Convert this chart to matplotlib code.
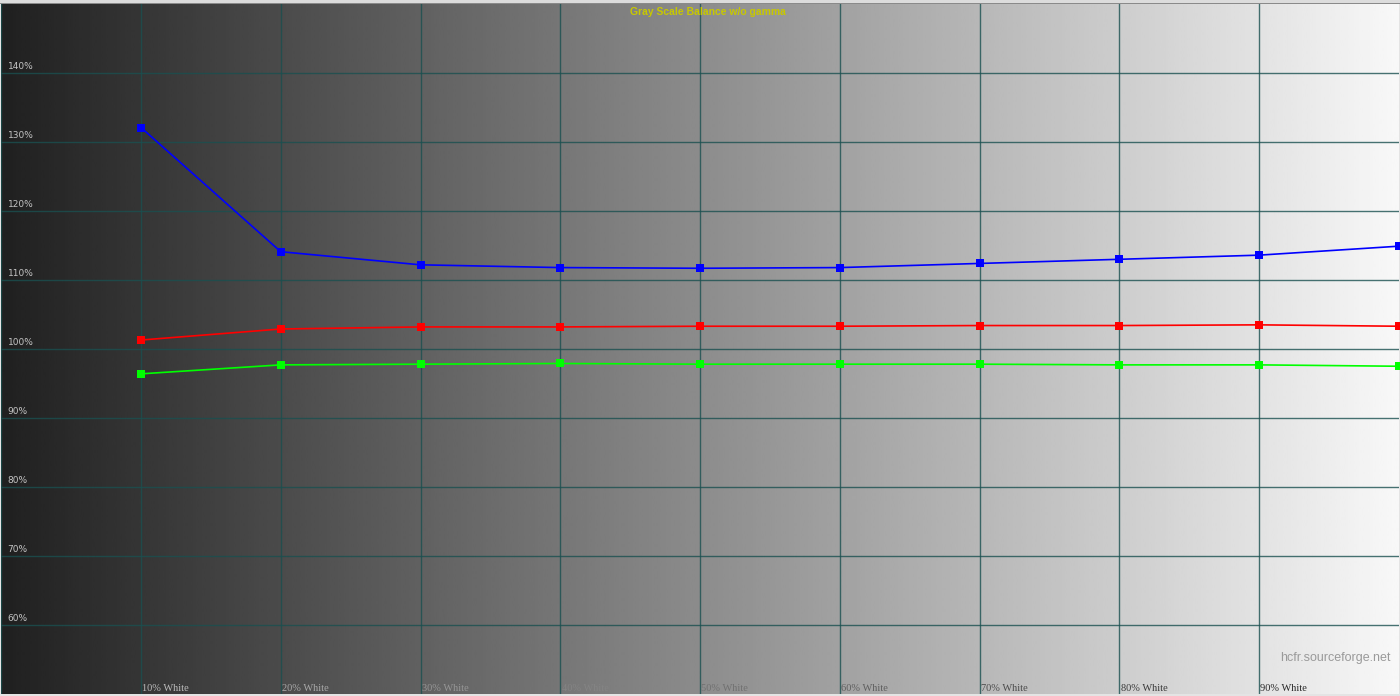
import numpy as np
import matplotlib
matplotlib.use("Agg")
import matplotlib.pyplot as plt
from matplotlib.patches import Rectangle

# ---- data ----
levels = [10, 20, 30, 40, 50, 60, 70, 80, 90, 100]
x_labels = ["10% White", "20% White", "30% White", "40% White", "50% White",
            "60% White", "70% White", "80% White", "90% White"]
y_ticks = [60, 70, 80, 90, 100, 110, 120, 130, 140]
y_tick_labels = ["60%", "70%", "80%", "90%", "100%", "110%", "120%", "130%", "140%"]
blue = [132.1, 114.1, 112.2, 111.8, 111.7, 111.8, 112.4, 113.0, 113.6, 114.9]
red = [101.3, 102.9, 103.2, 103.2, 103.3, 103.3, 103.4, 103.4, 103.5, 103.3]
green = [96.4, 97.7, 97.8, 97.9, 97.8, 97.8, 97.8, 97.7, 97.7, 97.5]
title = "Gray Scale Balance w/o gamma"
watermark = "hcfr.sourceforge.net"

W, H, DPI = 1400, 696, 100
fig = plt.figure(figsize=(W / DPI, H / DPI), dpi=DPI)
fig.patch.set_facecolor("#e4e4e4")

left_px, right_px, top_px, bot_px = 1.25, 1398.75, 4, 694
ax = fig.add_axes([left_px / W, (H - bot_px) / H,
                   (right_px - left_px) / W, (bot_px - top_px) / H])
ax.set_xlim(0, 100)
ax.set_ylim(50, 150)
for s in ax.spines.values():
    s.set_visible(False)
ax.set_xticks([])
ax.set_yticks([])

# background gradient
g0, g1 = 0x20 / 255, 0xf8 / 255
grad = np.linspace(g0, g1, 512)[None, :]
ax.imshow(grad, extent=[0, 100, 50, 150], aspect="auto", cmap="gray",
          vmin=0, vmax=1, zorder=0, interpolation="bilinear")

def bg_at(x):
    return g0 + (g1 - g0) * x / 100.0

# gridlines
gc = "#1a5050"
for xv in [0] + levels[:-1]:
    ax.axvline(xv, color=gc, alpha=0.8, lw=1.0, zorder=1)
for yv in y_ticks:
    ax.axhline(yv, color=gc, alpha=0.8, lw=1.0, zorder=1)

# series
for vals, col in [(blue, "#0000ff"), (red, "#ff0000"), (green, "#00ff00")]:
    ax.plot(levels, vals, color=col, lw=1.2, marker="s", markersize=5.2,
            markeredgewidth=0, zorder=3)

# y tick labels
for yv, lab in zip(y_ticks, y_tick_labels):
    ax.text(0.45, yv + 0.35, lab, fontsize=6.5, color="#c4c4c4",
            family="DejaVu Sans", va="bottom", ha="left", zorder=4)

# x tick labels (colour roughly inverted against the background)
for xv, lab in zip(levels[:-1], x_labels):
    b = bg_at(xv + 2)
    c = 0.5 + 0.85 * (0.5 - b)
    c = min(max(c, 0.1), 0.85)
    ax.text(xv + 0.1, 50.15, lab, fontsize=7.5, color=(c, c, c),
            family="Liberation Serif", va="bottom", ha="left", zorder=4)

# title
ax.text(50.6, 148.9, title, fontsize=7.5, color="#c8c800", weight="bold",
        family="Liberation Sans", ha="center", va="center", zorder=4)

# watermark
ax.text(99.4, 55.2, watermark, fontsize=9, color="#9a9a9a",
        family="Liberation Sans", ha="right", va="center", zorder=4)

# top UI strip
fig.patches.append(Rectangle((0, (H - 3) / H), 1, 3 / H, transform=fig.transFigure,
                             facecolor="#dcdcdc", edgecolor="none", zorder=5))
fig.patches.append(Rectangle((0, (H - 4) / H), 1, 1 / H, transform=fig.transFigure,
                             facecolor="#8a8a8a", edgecolor="none", zorder=5))

fig.savefig("out.png", dpi=DPI)
